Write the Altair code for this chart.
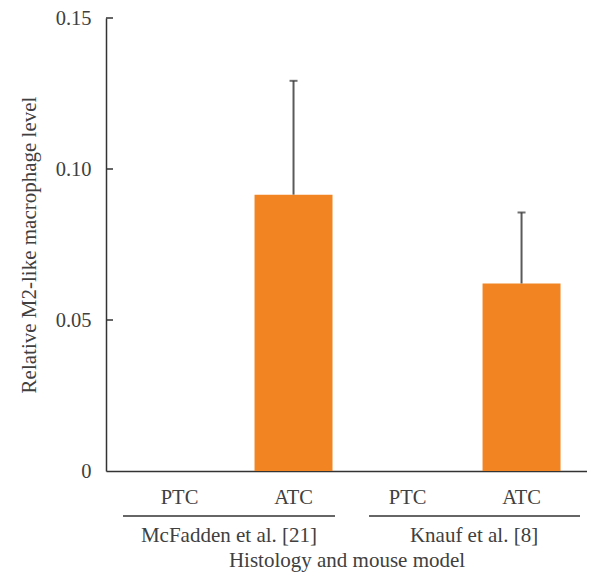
import altair as alt
import pandas as pd

# ---- data ----
groups = ["McFadden et al. [21]", "McFadden et al. [21]", "Knauf et al. [8]", "Knauf et al. [8]"]
histology = ["PTC", "ATC", "PTC", "ATC"]
values = [0.0, 0.0915, 0.0, 0.0621]
upper = [None, 0.1292, None, 0.0856]
y_ticks = [0, 0.05, 0.10, 0.15]
group_names = ["McFadden et al. [21]", "Knauf et al. [8]"]

keys = [f"{g}|{h}" for g, h in zip(groups, histology)]
df = pd.DataFrame({"key": keys, "group": groups, "histology": histology,
                   "value": values, "upper": upper})
ticks_df = pd.DataFrame({"t": y_ticks[1:]})

FONT = "Liberation Serif"
FS = 20.5
TFS = 21
TEXT = "#404040"
AXIS = "#333333"
ORANGE = "#F28522"
W, H = 481, 453

xscale = alt.Scale(domain=keys, paddingInner=0.316, paddingOuter=0.2675, align=0.566)
yscale = alt.Scale(domain=[0, 0.15], nice=False, zero=True)

x_axis = alt.Axis(title="Histology and mouse model",
                  labelExpr="split(datum.value, '|')[1]",
                  ticks=False, grid=False, labelAngle=0,
                  domainColor=AXIS, domainWidth=1.5,
                  labelFont=FONT, labelFontSize=FS, labelColor=TEXT, labelPadding=16,
                  titleFont=FONT, titleFontSize=TFS, titleFontWeight="normal",
                  titleColor=TEXT, titlePadding=42)
y_axis = alt.Axis(title="Relative M2-like macrophage level", values=y_ticks,
                  labelExpr="datum.value == 0 ? '0' : format(datum.value, '.2f')",
                  ticks=False, grid=False,
                  domainColor=AXIS, domainWidth=1.5,
                  labelFont=FONT, labelFontSize=FS, labelColor=TEXT, labelPadding=15,
                  titleFont=FONT, titleFontSize=TFS, titleFontWeight="normal",
                  titleColor=TEXT, titlePadding=16)

base = alt.Chart(df)

bars = base.mark_bar(color=ORANGE).encode(
    x=alt.X("key:N", scale=xscale, axis=x_axis, sort=keys),
    y=alt.Y("value:Q", scale=yscale, axis=y_axis),
)

err = base.transform_filter("isValid(datum.upper)").mark_rule(
    color="#5a5a5a", strokeWidth=2).encode(
    x=alt.X("key:N", scale=xscale),
    y=alt.Y("value:Q", scale=yscale),
    y2="upper:Q",
)
cap = base.transform_filter("isValid(datum.upper)").mark_tick(
    color="#333333", thickness=2, size=8).encode(
    x=alt.X("key:N", scale=xscale),
    y=alt.Y("upper:Q", scale=yscale),
)

inner_ticks = alt.Chart(ticks_df).mark_rule(color=AXIS, strokeWidth=1.5).encode(
    y=alt.Y("t:Q", scale=yscale),
    x=alt.value(0), x2=alt.value(7),
)

# group underline offsets / label offsets (layout only)
rule_off = {"McFadden et al. [21]": (-56.5, 41.5), "Knauf et al. [8]": (-38.5, 58.5)}
label_dx = {"McFadden et al. [21]": 49.5, "Knauf et al. [8]": 66.5}

layers = [bars, err, cap, inner_ticks]
for g in group_names:
    gk = [k for k, gg in zip(keys, groups) if gg == g]
    one = pd.DataFrame({"group": [g]})
    xo, x2o = rule_off[g]
    layers.append(alt.Chart(one).mark_rule(color=AXIS, strokeWidth=1.5,
                                           xOffset=xo, x2Offset=x2o).encode(
        x=alt.datum(gk[0], scale=xscale), x2=alt.datum(gk[-1]), y=alt.value(498)))
    layers.append(alt.Chart(one).mark_text(font=FONT, fontSize=TFS, color=TEXT,
                                           baseline="middle", align="center",
                                           dx=label_dx[g]).encode(
        x=alt.datum(gk[0], scale=xscale), y=alt.value(518), text="group:N"))

chart = alt.layer(*layers).properties(
    width=W, height=H,
    padding={"left": 98, "top": 10, "right": 0, "bottom": 102},
    autosize="none",
    background="white",
).configure_view(stroke=None)

chart.save("out.html", embed_options={"renderer": "svg", "actions": False})
